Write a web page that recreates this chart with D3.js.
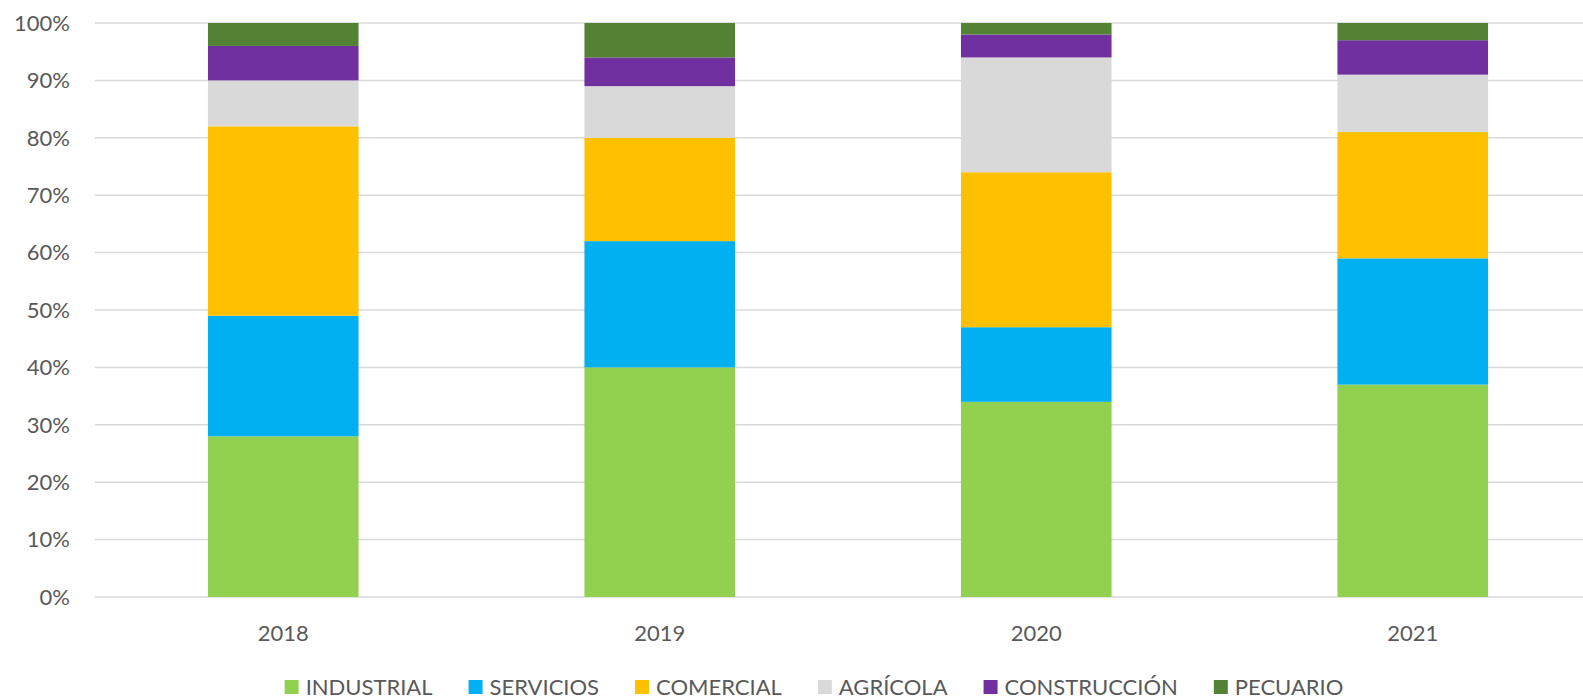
<!DOCTYPE html>
<html><head><meta charset="utf-8">
<script src="https://cdn.jsdelivr.net/npm/d3@7"></script>
<style>html,body{margin:0;padding:0;background:#fff;}svg{display:block;font-family:Lato, "Open Sans", sans-serif;}</style>
</head><body><svg id="c" width="1583" height="700"></svg>
<script>
const years = ["2018","2019","2020","2021"];
const seriesNames = ["INDUSTRIAL","SERVICIOS","COMERCIAL","AGRÍCOLA","CONSTRUCCIÓN","PECUARIO"];
const colors = ["#92d050","#00b0f0","#ffc000","#d9d9d9","#7030a0","#548235"];
const industrial   = [28,40,34,37];
const servicios    = [21,22,13,22];
const comercial    = [33,18,27,22];
const agricola     = [8,9,20,10];
const construccion = [6,5,4,6];
const pecuario     = [4,6,2,3];
const yTicks = [0,10,20,30,40,50,60,70,80,90,100];

(function(){
const seriesVals = [industrial,servicios,comercial,agricola,construccion,pecuario];
const rows = years.map((yr,i)=>{const r={year:yr}; seriesNames.forEach((s,j)=>r[s]=seriesVals[j][i]); return r;});
const stack = d3.stack().keys(seriesNames).offset(d3.stackOffsetExpand)(rows);

const svg = d3.select("#c");
const mLeft=95, mRight=1601, mTop=23, mBottom=597;
const fs=22;
const x = d3.scaleBand().domain(years).range([mLeft,mRight]).paddingInner(0.6).paddingOuter(0.3);
const y = d3.scaleLinear().domain([0,1]).range([mBottom,mTop]);

svg.append("g").selectAll("line").data(yTicks).join("line")
  .attr("x1",mLeft).attr("x2",mRight)
  .attr("y1",d=>y(d/100)).attr("y2",d=>y(d/100))
  .attr("stroke","#d9d9d9").attr("stroke-width",1.5);

svg.append("g").selectAll("text").data(yTicks).join("text")
  .attr("x",70).attr("y",d=>y(d/100)).attr("dy","0.35em")
  .attr("text-anchor","end").attr("font-size",fs).attr("fill","#595959")
  .text(d=>d+"%");

svg.append("g").selectAll("g").data(stack).join("g")
  .attr("fill",(d,i)=>colors[i])
  .selectAll("rect").data(d=>d).join("rect")
  .attr("x",d=>x(d.data.year)).attr("width",x.bandwidth())
  .attr("y",d=>y(d[1])).attr("height",d=>y(d[0])-y(d[1]));

svg.append("g").selectAll("text").data(years).join("text")
  .attr("x",d=>x(d)+x.bandwidth()/2).attr("y",633).attr("dy","0.35em")
  .attr("text-anchor","middle").attr("font-size",fs).attr("fill","#595959")
  .text(d=>d);

const lg = svg.append("g");
const items = lg.selectAll("g").data(seriesNames).join("g");
items.append("rect").attr("width",14).attr("height",14).attr("y",680).attr("fill",(d,i)=>colors[i]);
items.append("text").attr("x",21).attr("y",687).attr("dy","0.35em").attr("font-size",fs).attr("fill","#595959").text(d=>d);
const widths=[];
items.each(function(){widths.push(21+this.querySelector("text").getComputedTextLength());});
const gap=36; const total=d3.sum(widths)+gap*(widths.length-1);
let start=814-total/2;
items.attr("transform",(d,i)=>{const t=`translate(${start},0)`; start+=widths[i]+gap; return t;});
})();
</script></body></html>
